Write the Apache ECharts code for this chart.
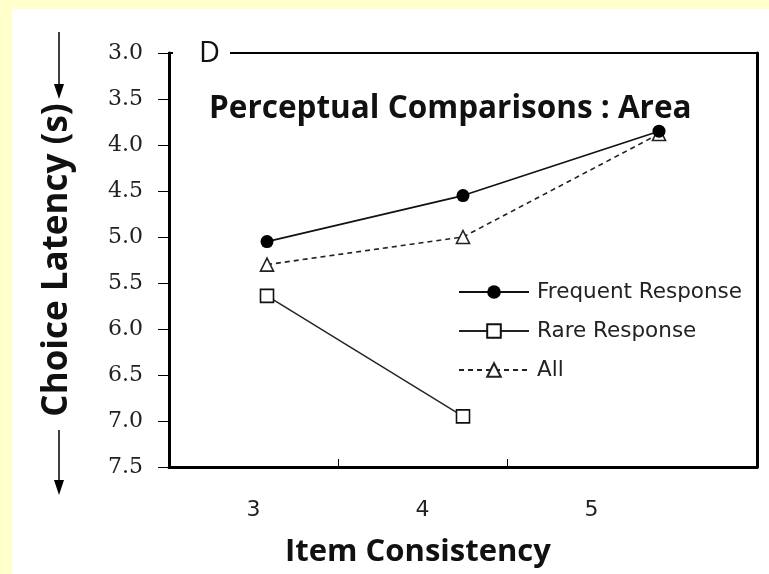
<!DOCTYPE html>
<html>
<head>
<meta charset="utf-8">
<script src="https://cdn.jsdelivr.net/npm/echarts@6/dist/echarts.min.js"></script>
<style>
  html, body { margin: 0; padding: 0; background: #FFFFCC; }
  #chart { width: 769px; height: 574px; }
</style>
</head>
<body>
<div id="chart"></div>
<script>
// ---- data ----
const xValues = [3, 4, 5];
const xTickLabels = ['3', '4', '5'];
const seriesNames = ['Frequent Response', 'Rare Response', 'All'];
const frequentResponse = [5.05, 4.55, 3.85];
const rareResponse = [5.64, 6.95, null];
const allResponses = [5.30, 5.00, 3.88];
const yMin = 3.0, yMax = 7.5, yStep = 0.5;
const titleText = 'Perceptual Comparisons : Area';
const panelLetter = 'D';
const xAxisName = 'Item Consistency';
const yAxisName = 'Choice Latency (s)';

function pairs(vals) {
  return xValues.map((x, i) => [x, vals[i]]).filter(p => p[1] !== null);
}

const chart = echarts.init(document.getElementById('chart'), null, { renderer: 'canvas' });
const ink = '#111';

const option = {
  backgroundColor: '#FFFFCC',
  animation: false,
  graphic: [
    { type: 'rect', left: 12, top: 9, z: -10, shape: { width: 757, height: 565 }, style: { fill: '#fff' } },
    { type: 'line', z: 1, shape: { x1: 59, y1: 32, x2: 59, y2: 88 }, style: { stroke: '#000', lineWidth: 1.5 } },
    { type: 'polygon', z: 1, shape: { points: [[54, 84], [64, 84], [59, 99]] }, style: { fill: '#000' } },
    { type: 'line', z: 1, shape: { x1: 59, y1: 430, x2: 59, y2: 484 }, style: { stroke: '#000', lineWidth: 1.5 } },
    { type: 'polygon', z: 1, shape: { points: [[54, 480], [64, 480], [59, 495]] }, style: { fill: '#000' } }
  ],
  title: [
    {
      text: titleText, left: 209, top: 94, padding: 0,
      textStyle: { fontFamily: 'Open Sans', fontWeight: 'bold', fontSize: 31.5, color: '#111', lineHeight: 31 }
    },
    {
      text: panelLetter, left: 173, top: 39, padding: [0, 10, 0, 26],
      backgroundColor: '#fff',
      textStyle: { fontFamily: 'Open Sans', fontWeight: 'normal', fontSize: 29, color: '#111', lineHeight: 30 }
    },
    {
      text: xAxisName, left: 418, top: 537, textAlign: 'center', padding: 0,
      textStyle: { fontFamily: 'Open Sans', fontWeight: 'bold', fontSize: 31, color: '#111', lineHeight: 31 }
    }
  ],
  legend: {
    orient: 'vertical', left: 458, top: 281, padding: 0,
    itemWidth: 70, itemHeight: 17, itemGap: 17,
    data: seriesNames,
    textStyle: { fontFamily: 'DejaVu Sans', fontSize: 21.5, color: '#222', padding: [0, 0, 0, 3] }
  },
  grid: { left: 169, right: 12, top: 53, bottom: 107, containLabel: false },
  xAxis: [
    { // data axis (positions of the points)
      type: 'value', min: 2.5, max: 5.5, show: false
    },
    { // drawn bottom axis with labels
      type: 'value', position: 'bottom', min: 2.5, max: 5.979,
      axisLine: { show: true, lineStyle: { color: '#000', width: 3 } },
      axisTick: { show: true, inside: true, length: 8, customValues: [3.5, 4.5], lineStyle: { color: '#000', width: 1 } },
      axisLabel: {
        show: true, margin: 32, customValues: xTickLabels.map(Number),
        formatter: v => String(v),
        fontFamily: 'DejaVu Sans', fontSize: 22, color: '#222'
      },
      splitLine: { show: false }
    },
    { // top frame line
      type: 'value', position: 'top', min: 2.5, max: 5.5,
      axisLine: { show: true, lineStyle: { color: '#000', width: 2 } },
      axisTick: { show: false }, axisLabel: { show: false }, splitLine: { show: false }
    }
  ],
  yAxis: [
    {
      type: 'value', inverse: true, min: yMin, max: yMax, interval: yStep,
      position: 'left',
      name: yAxisName, nameLocation: 'middle', nameGap: 94, nameRotate: 90,
      nameTextStyle: { fontFamily: 'Open Sans', fontWeight: 'bold', fontSize: 35, color: '#111' },
      axisLine: { show: true, lineStyle: { color: '#000', width: 3 } },
      axisTick: { show: true, inside: false, length: 11, lineStyle: { color: '#000', width: 1 } },
      axisLabel: {
        margin: 26, formatter: v => v.toFixed(1),
        fontFamily: 'DejaVu Serif', fontSize: 22, color: '#222'
      },
      splitLine: { show: false }
    },
    {
      type: 'value', inverse: true, min: yMin, max: yMax, position: 'right',
      axisLine: { show: true, lineStyle: { color: '#000', width: 3 } },
      axisTick: { show: false }, axisLabel: { show: false }, splitLine: { show: false }
    }
  ],
  series: [
    {
      name: seriesNames[0], type: 'line', xAxisIndex: 0, yAxisIndex: 0, z: 5,
      data: pairs(frequentResponse),
      symbol: 'circle', symbolSize: 13,
      itemStyle: { color: '#000', borderColor: '#000', borderWidth: 0 },
      lineStyle: { color: ink, width: 1.6, type: 'solid' }
    },
    {
      name: seriesNames[1], type: 'line', xAxisIndex: 0, yAxisIndex: 0, z: 4,
      data: pairs(rareResponse),
      symbol: 'rect', symbolSize: 13,
      itemStyle: { color: '#fff', borderColor: '#111', borderWidth: 1.6 },
      lineStyle: { color: '#222', width: 1.4, type: 'solid' }
    },
    {
      name: seriesNames[2], type: 'line', xAxisIndex: 0, yAxisIndex: 0, z: 3,
      data: pairs(allResponses),
      symbol: 'triangle', symbolSize: 13,
      itemStyle: { color: '#fff', borderColor: '#222', borderWidth: 1.6 },
      lineStyle: { color: '#222', width: 1.6, type: [5, 4] }
    }
  ]
};
chart.setOption(option);
</script>
</body>
</html>
